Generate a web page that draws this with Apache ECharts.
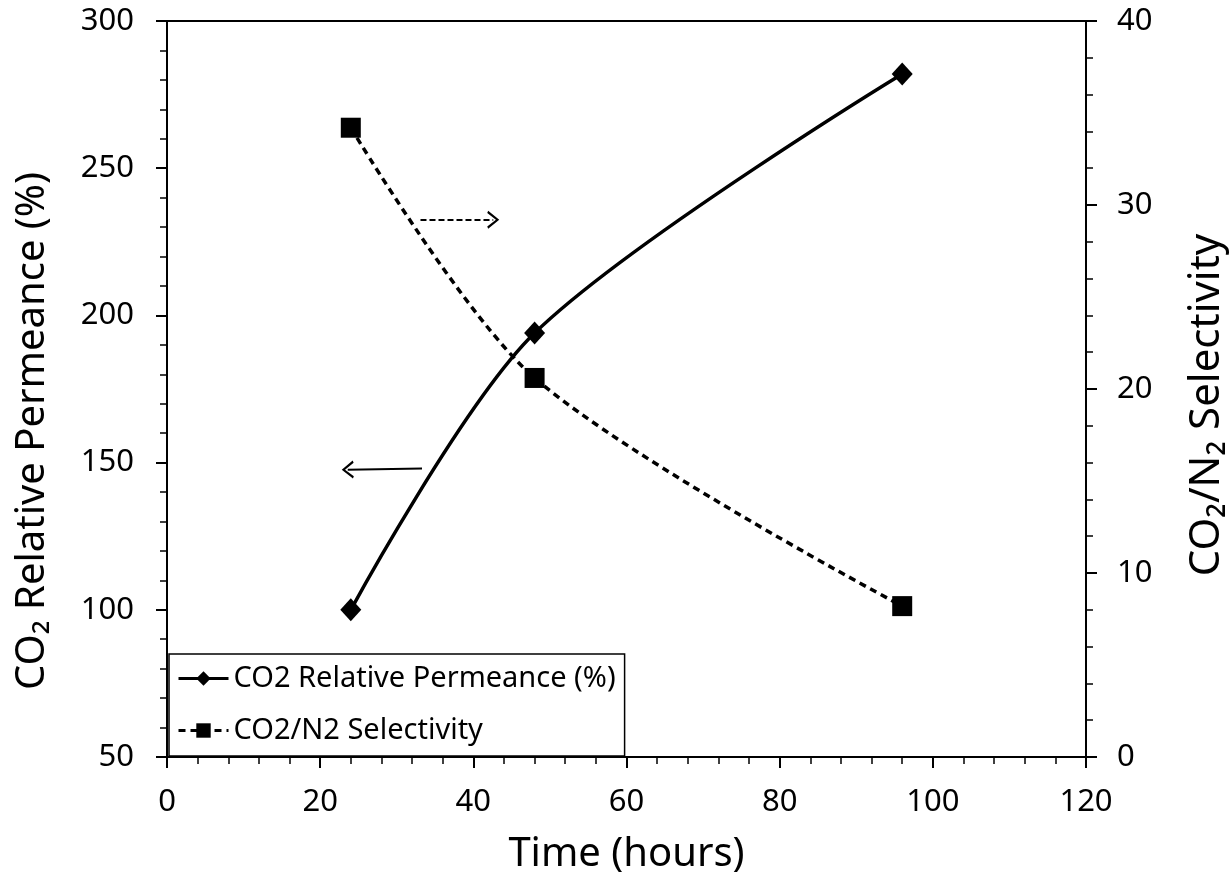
<!DOCTYPE html>
<html><head><meta charset="utf-8">
<script src="https://cdn.jsdelivr.net/npm/echarts@6/dist/echarts.min.js"></script>
<style>html,body{margin:0;padding:0;background:#fff}#c{width:1230px;height:879px}</style>
</head><body><div id="c"></div>
<script>
// ---- data ----
const hours = [24, 48, 96];
const permeance = [100, 194, 282];      // CO2 Relative Permeance (%), left axis
const selectivity = [34.2, 20.6, 8.2];  // CO2/N2 Selectivity, right axis
const xAxisRange = [0, 120, 20];
const leftAxisRange = [50, 300, 50];
const rightAxisRange = [0, 40, 10];
const seriesNames = ['CO2 Relative Permeance (%)', 'CO2/N2 Selectivity'];
const axisTitles = ['Time (hours)', 'CO\u2082 Relative Permeance (%)', 'CO\u2082/N\u2082 Selectivity'];

const FONT = 'Noto Sans';
const chevron = 'path://M0,12 L8,0 L16,12 L14,13 L8,3.6 L2,13 Z';

const chart = echarts.init(document.getElementById('c'), null, {renderer: 'canvas'});

function axisCommon(range) {
  return {
    type: 'value', min: range[0], max: range[1], interval: range[2],
    axisLine: {show: true, onZero: false, lineStyle: {color: '#000', width: 2}},
    axisTick: {show: true, inside: false, length: 11, lineStyle: {color: '#000', width: 2}},
    minorTick: {show: true, splitNumber: 5, length: 7, lineStyle: {color: '#000', width: 1.5}},
    splitLine: {show: false},
    axisLabel: {color: '#000', fontFamily: FONT, fontSize: 31},
    nameTextStyle: {color: '#000', fontFamily: FONT, fontSize: 40}
  };
}

const xAx = axisCommon(xAxisRange);
xAx.axisLabel.margin = 30;
xAx.name = axisTitles[0];
xAx.nameLocation = 'middle';
xAx.nameGap = 78;

const yL = axisCommon(leftAxisRange);
yL.position = 'left';
yL.axisLabel.margin = 33;
yL.name = axisTitles[1];
yL.nameLocation = 'middle';
yL.nameRotate = 90;
yL.nameGap = 114;
yL.nameTextStyle.padding = [0, 84, 0, 0];

const yR = axisCommon(rightAxisRange);
yR.position = 'right';
yR.axisLabel.margin = 31;
yR.name = axisTitles[2];
yR.nameLocation = 'middle';
yR.nameRotate = 90;
yR.nameGap = 100;
yR.nameTextStyle.fontSize = 42;
yR.nameTextStyle.padding = [0, 32, 0, 0];

const option = {
  animation: false,
  backgroundColor: '#fff',
  textStyle: {fontFamily: FONT},
  grid: {left: 167, right: 144, top: 21, bottom: 122, containLabel: false, outerBoundsMode: 'none',
         show: true, borderColor: '#000', borderWidth: 2, backgroundColor: 'transparent'},
  xAxis: xAx,
  yAxis: [yL, yR],
  legend: {
    orient: 'vertical', left: 169, top: 654,
    padding: [10, 9, 11, 8], itemGap: 23,
    itemWidth: 50, itemHeight: 18,
    backgroundColor: '#fff', borderColor: '#000', borderWidth: 1.5,
    lineStyle: {width: 3},
    textStyle: {color: '#000', fontFamily: FONT, fontSize: 29},
    data: seriesNames, selectedMode: false
  },
  series: [
    {
      name: seriesNames[0], type: 'line', yAxisIndex: 0, smooth: 0.3,
      data: hours.map((h, i) => [h, permeance[i]]),
      symbol: 'diamond', symbolSize: [21, 23],
      lineStyle: {color: '#000', width: 3.5},
      itemStyle: {color: '#000'},
      markLine: {
        silent: true, animation: false,
        symbol: ['none', chevron], symbolSize: [18, 12],
        label: {show: false},
        lineStyle: {color: '#000', width: 2, type: 'solid'},
        data: [[{coord: [33.3, 148]}, {coord: [23.6, 147.6]}]]
      }
    },
    {
      name: seriesNames[1], type: 'line', yAxisIndex: 1, smooth: 0.3,
      data: hours.map((h, i) => [h, selectivity[i]]),
      symbol: 'rect', symbolSize: 20,
      lineStyle: {color: '#000', width: 3.5, type: [7, 5]},
      itemStyle: {color: '#000'},
      markLine: {
        silent: true, animation: false,
        symbol: ['none', chevron], symbolSize: [18, 12],
        label: {show: false},
        lineStyle: {color: '#000', width: 2, type: [6, 3]},
        data: [[{coord: [33.1, 29.2]}, {coord: [42.6, 29.2]}]]
      }
    }
  ]
};
chart.setOption(option);
</script>
</body></html>
